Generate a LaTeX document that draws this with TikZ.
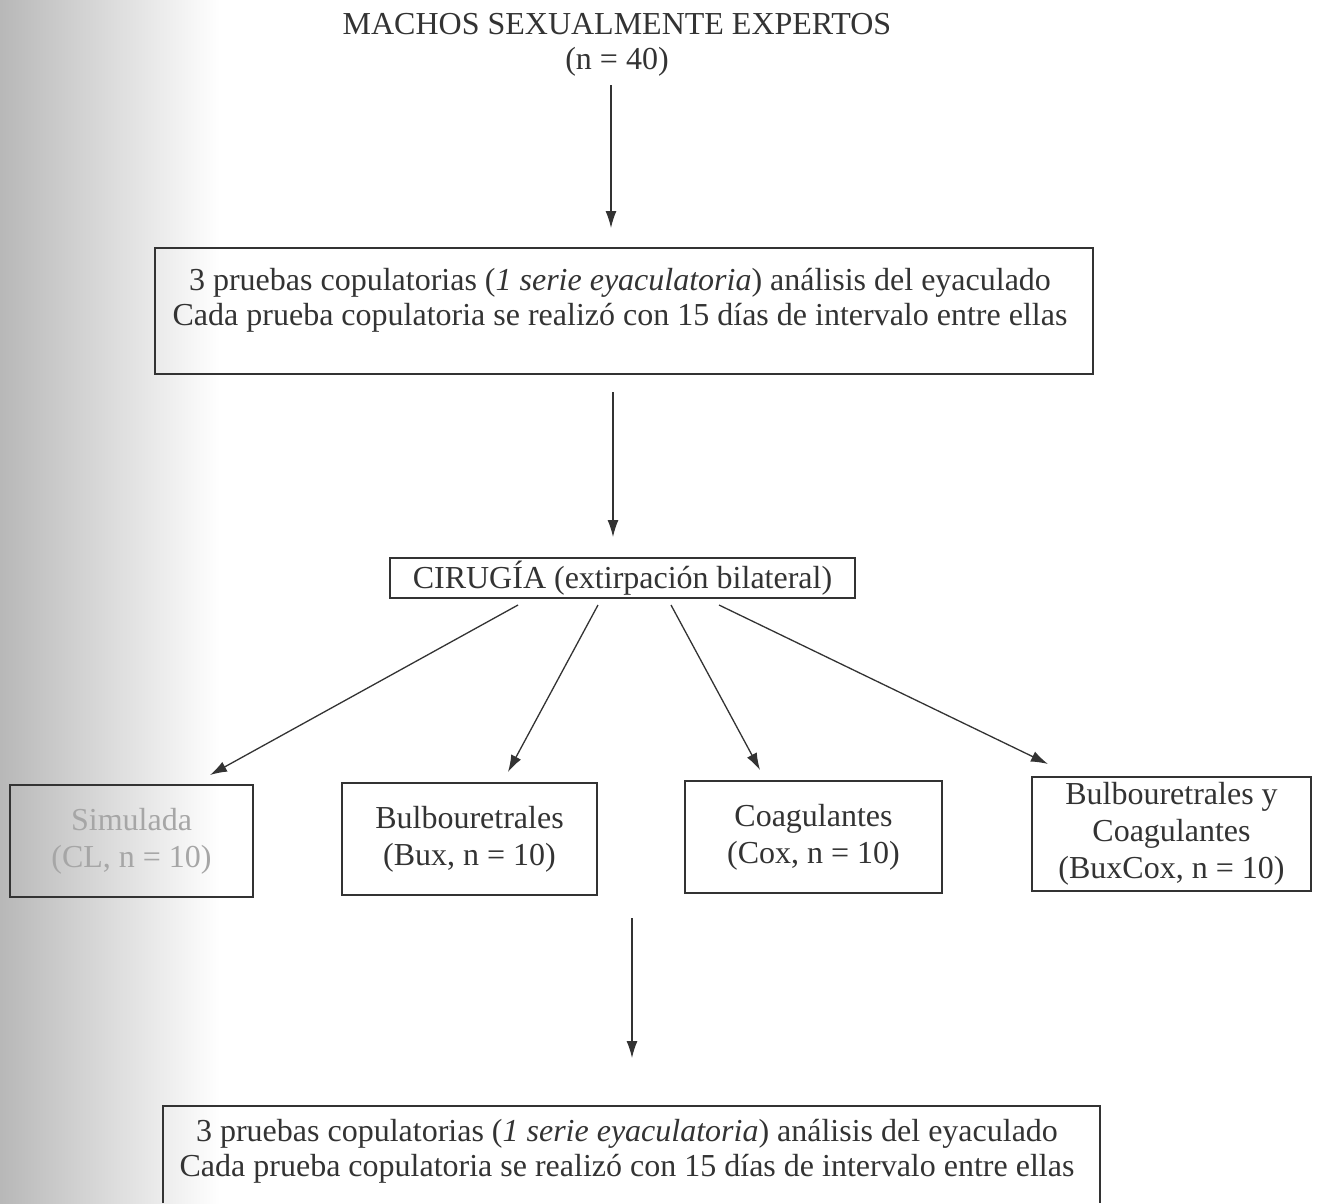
\documentclass[tikz,border=0pt]{standalone}
\usepackage{fontspec}
\setmainfont{Liberation Serif}
\usetikzlibrary{arrows.meta}
\definecolor{ink}{HTML}{333333}
\tikzset{
  box/.style={draw=ink, line width=1.3pt},
  txt/.style={text=ink, align=center, font=\fontsize{32}{37}\selectfont, inner sep=0pt},
  arr/.style={draw=ink, line width=1.3pt, -{Latex[length=17pt,width=11pt]}},
}
\begin{document}
\begin{tikzpicture}[x=1pt,y=-1pt]
\useasboundingbox (0,0) rectangle (1317,1203);
\fill[white] (0,0) rectangle (1317,1203);
\shade[left color=black!28, right color=white] (0,0) rectangle (220,1203);
% title
\node[txt] (title) at (617,24) {MACHOS SEXUALMENTE EXPERTOS};
\node[txt] (n40) at (617,62) {(n = 40)};
\coordinate (a1s) at (611,85);
\coordinate (a1e) at (611,228);
% box 1
\draw[box] (155,248) rectangle (1093,374);
\node[txt] (b1a) at (620,283) {3 pruebas copulatorias (\textit{1 serie eyaculatoria}) análisis del eyaculado};
\node[txt] (b1b) at (620,318) {Cada prueba copulatoria se realizó con 15 días de intervalo entre ellas};
\coordinate (a2s) at (613,392);
\coordinate (a2e) at (613,537);
% cirugia
\node[box, txt, minimum width=465pt, minimum height=40pt] (cir) at (622.5,578) {CIRUGÍA (extirpación bilateral)};
\coordinate (c1) at (518,605);
\coordinate (c2) at (598,605);
\coordinate (c3) at (671,605);
\coordinate (c4) at (719,605);
% groups
\node[box, txt, minimum width=243pt, minimum height=112pt, text=black!35] (sim) at (131.5,841) {Simulada\\(CL, n = 10)};
\node[box, txt, minimum width=255pt, minimum height=112pt] (bux) at (469.5,839) {Bulbouretrales\\(Bux, n = 10)};
\node[box, txt, minimum width=257pt, minimum height=112pt] (cox) at (813.5,837) {Coagulantes\\(Cox, n = 10)};
\node[box, txt, minimum width=279pt, minimum height=114pt] (bc) at (1171.5,834) {Bulbouretrales y\\Coagulantes\\(BuxCox, n = 10)};
\coordinate (t1) at (210,775);
\coordinate (t2) at (508,772);
\coordinate (t3) at (760,770);
\coordinate (t4) at (1048,764);
\coordinate (a3s) at (632,918);
\coordinate (a3e) at (632,1058);
% bottom box
\draw[box] (163,1203) -- (163,1106) -- (1100,1106) -- (1100,1203);
\node[txt] (b2a) at (627,1134) {3 pruebas copulatorias (\textit{1 serie eyaculatoria}) análisis del eyaculado};
\node[txt] (b2b) at (627,1169) {Cada prueba copulatoria se realizó con 15 días de intervalo entre ellas};
% arrows
\draw[arr] (a1s) -- (a1e);
\draw[arr] (a2s) -- (a2e);
\draw[arr] (c1) -- (t1);
\draw[arr] (c2) -- (t2);
\draw[arr] (c3) -- (t3);
\draw[arr] (c4) -- (t4);
\draw[arr] (a3s) -- (a3e);
\end{tikzpicture}
\end{document}
